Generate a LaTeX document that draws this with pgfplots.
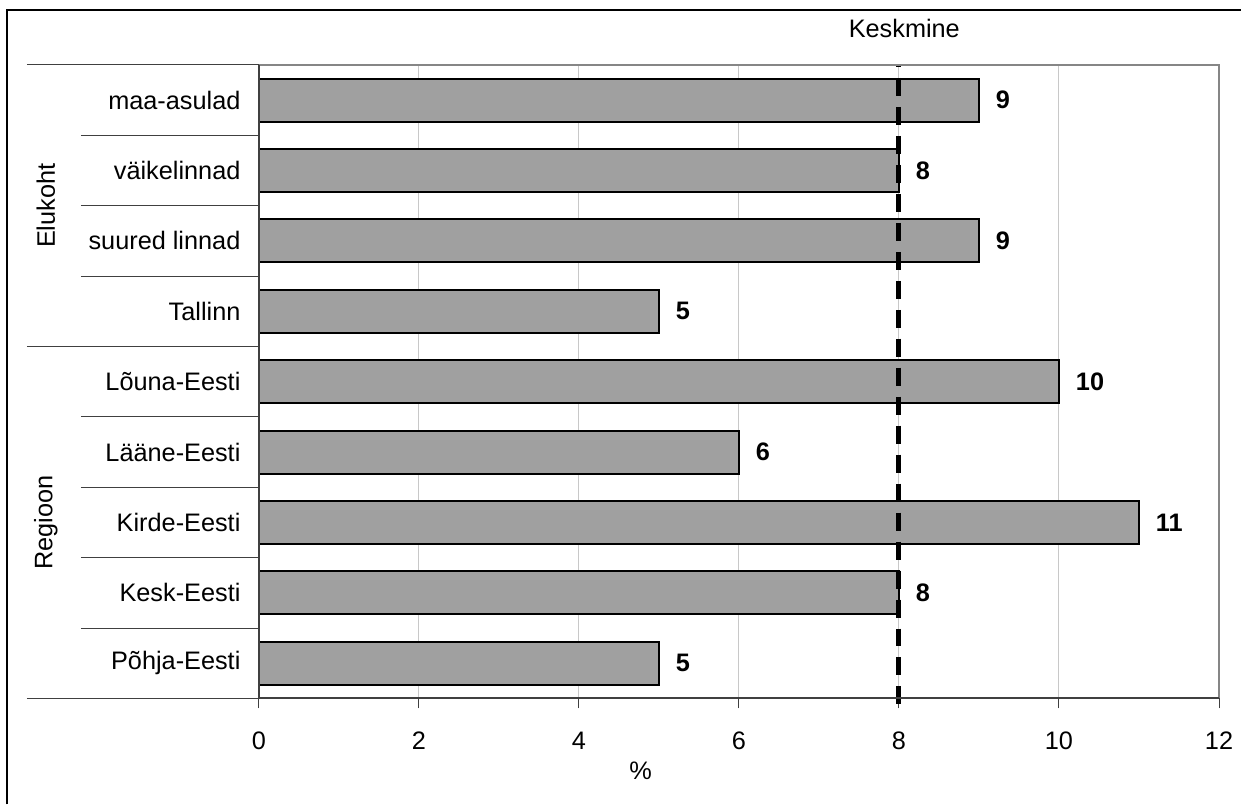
\documentclass[border=0pt]{standalone}
\usepackage{fontspec}
\setmainfont{Liberation Sans}
\usepackage{pgfplots}
\pgfplotsset{compat=1.18}
\definecolor{barfill}{RGB}{160,160,160}
\definecolor{axdark}{RGB}{64,64,64}
\definecolor{axlight}{RGB}{134,134,134}
\definecolor{gridc}{RGB}{200,200,200}
\begin{document}
\fontsize{12.7}{15}\selectfont
\begin{tikzpicture}
% 1 px of the reference = 0.5bp
\path (0bp,0bp) rectangle (621bp,402.5bp);
\draw[line width=1bp, black] (3.5bp,0bp) -- (3.5bp,397.5bp) -- (621bp,397.5bp);
\begin{axis}[
  at={(129.5bp,53bp)}, anchor=south west,
  scale only axis, width=480.5bp, height=317bp,
  xmin=0, xmax=12, ymin=-0.5, ymax=8.5,
  xtick={0,2,...,12}, ytick={0,...,8},
  yticklabels={Põhja-Eesti, Kesk-Eesti, Kirde-Eesti, Lääne-Eesti, Lõuna-Eesti, Tallinn, suured linnad, väikelinnad, maa-asulad},
  /pgf/number format/assume math mode=true,
  tick label style={font=\fontsize{12.7}{15}\selectfont},
  xticklabel style={anchor=north, inner sep=0pt, yshift=-11.5bp},
  yticklabel style={anchor=east, inner sep=0pt, xshift=-4bp},
  axis line style={draw=none},
  tick align=outside,
  xtick pos=bottom, ytick pos=left,
  major tick length=5bp,
  x tick style={axdark, line width=0.5bp},
  y tick style={draw=none},
  xmajorgrids, grid style={gridc, line width=0.5bp},
  xlabel={\%},
  x label style={at={(axis description cs:0.3975,0)}, anchor=center, yshift=-36bp, font=\fontsize{12.7}{15}\selectfont},
  clip=false,
]
  % bars
  \addplot[xbar, bar width=21.5bp, bar shift=0pt, fill=barfill, draw=black, line width=1bp,
    nodes near coords, point meta=x,
    every node near coord/.append style={font=\fontsize{12.7}{15}\selectfont\bfseries, anchor=west, inner sep=0pt, xshift=8bp, text=black}]
    coordinates {(5,0) (8,1) (11,2) (6,3) (10,4) (5,5) (9,6) (8,7) (9,8)};
  % average line
  \addplot[black, line width=2.5bp, dash pattern=on 9bp off 5.5bp, dash phase=8bp, forget plot]
    coordinates {(8,8.5) (8,-0.656)};

  % axis box
  \draw[axlight, line width=1bp] (rel axis cs:0,1) -- (rel axis cs:1,1) -- (rel axis cs:1,0);
  \draw[axdark, line width=1bp] (rel axis cs:0,1) -- (rel axis cs:0,0) -- (rel axis cs:1,0);

  % category separators
  \pgfplotsinvokeforeach{0.5,1.5,2.5,3.5,5.5,6.5,7.5}{
    \draw[axdark, line width=0.5bp] (axis cs:-2.2227,#1) -- (axis cs:0,#1);
  }
  \pgfplotsinvokeforeach{-0.5,4.5,8.5}{
    \draw[axdark, line width=0.5bp] (axis cs:-2.897,#1) -- (axis cs:0,#1);
  }
  \node[rotate=90, font=\fontsize{12.7}{15}\selectfont] at (axis cs:-2.66,6.5) {Elukoht};
  \node[rotate=90, font=\fontsize{12.7}{15}\selectfont] at (axis cs:-2.66,2) {Regioon};
  \node[font=\fontsize{12.7}{15}\selectfont, yshift=18.5bp] at (axis cs:8.067,8.5) {Keskmine};
\end{axis}
\end{tikzpicture}
\end{document}
